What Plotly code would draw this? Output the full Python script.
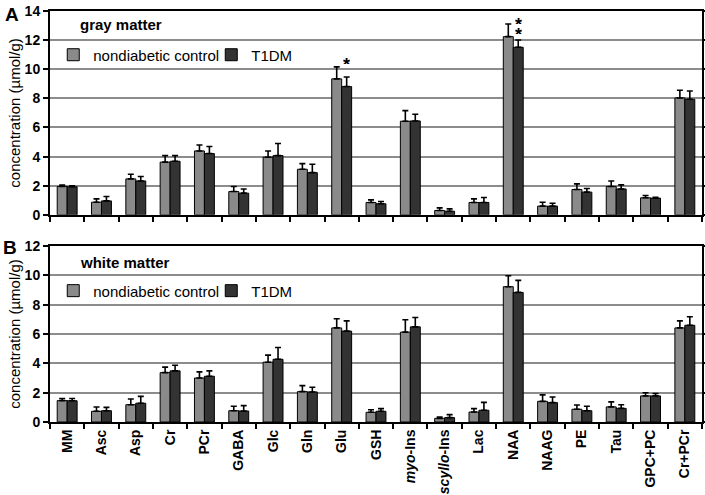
import plotly.graph_objects as go
from plotly.subplots import make_subplots

categories = ["MM", "Asc", "Asp", "Cr", "PCr", "GABA", "Glc", "Gln", "Glu", "GSH",
              "<i>myo</i>-Ins", "<i>scyllo</i>-Ins", "Lac", "NAA", "NAAG", "PE", "Tau",
              "GPC+PC", "Cr+PCr"]

# Gray matter (panel A)
gm_control = [1.95, 0.87, 2.47, 3.62, 4.39, 1.60, 3.96, 3.13, 9.34, 0.85, 6.43, 0.30, 0.85, 12.24, 0.60, 1.74, 1.95, 1.17, 8.03]
gm_control_sd = [0.10, 0.23, 0.32, 0.45, 0.41, 0.35, 0.43, 0.39, 0.82, 0.18, 0.73, 0.18, 0.25, 0.87, 0.27, 0.39, 0.38, 0.16, 0.53]
gm_t1dm = [1.93, 0.96, 2.33, 3.68, 4.21, 1.49, 4.07, 2.90, 8.81, 0.76, 6.45, 0.25, 0.85, 11.51, 0.60, 1.56, 1.78, 1.15, 7.94]
gm_t1dm_sd = [0.07, 0.30, 0.30, 0.39, 0.48, 0.29, 0.83, 0.58, 0.66, 0.16, 0.46, 0.16, 0.34, 0.50, 0.20, 0.25, 0.28, 0.05, 0.57]

# White matter (panel B)
wm_control = [1.46, 0.73, 1.18, 3.37, 3.00, 0.77, 4.08, 2.07, 6.42, 0.66, 6.13, 0.25, 0.68, 9.23, 1.41, 0.87, 1.03, 1.78, 6.42]
wm_control_sd = [0.14, 0.29, 0.39, 0.37, 0.42, 0.30, 0.48, 0.41, 0.62, 0.18, 0.84, 0.09, 0.23, 0.75, 0.44, 0.29, 0.34, 0.22, 0.48]
wm_t1dm = [1.45, 0.77, 1.28, 3.49, 3.12, 0.75, 4.28, 2.05, 6.20, 0.73, 6.49, 0.30, 0.80, 8.84, 1.32, 0.77, 0.93, 1.78, 6.60]
wm_t1dm_sd = [0.15, 0.23, 0.47, 0.38, 0.37, 0.37, 0.80, 0.32, 0.70, 0.18, 0.64, 0.20, 0.54, 0.82, 0.39, 0.30, 0.25, 0.16, 0.58]

series_names = ["nondiabetic control", "T1DM"]
# significance markers (panel A): category -> star heights (µmol/g)
sig_stars = {"Glu": [10.64], "NAA": [12.76, 13.45]}

C_CTRL = "#8a8a8a"
C_T1DM = "#333333"
FONT = "Liberation Sans, Arial, sans-serif"

fig = make_subplots(rows=2, cols=1)

def add_panel(row, ctrl, ctrl_sd, t1, t1_sd, legend):
    for name, vals, sd, col in [(series_names[0], ctrl, ctrl_sd, C_CTRL),
                                (series_names[1], t1, t1_sd, C_T1DM)]:
        fig.add_trace(go.Bar(
            x=categories, y=vals, name=name, legend=legend,
            marker=dict(color=col, line=dict(color="black", width=1)),
            error_y=dict(type="data", array=sd, arrayminus=[0] * len(sd), symmetric=False,
                         color="black", thickness=1.6, width=3),
        ), row=row, col=1)

add_panel(1, gm_control, gm_control_sd, gm_t1dm, gm_t1dm_sd, "legend")
add_panel(2, wm_control, wm_control_sd, wm_t1dm, wm_t1dm_sd, "legend2")

xcommon = dict(type="category", categoryorder="array", categoryarray=categories,
               showline=True, linecolor="black", linewidth=2, mirror=True,
               ticks="outside", tickson="boundaries", ticklen=5, tickcolor="black",
               tickwidth=1.5, showgrid=False, automargin=False)
fig.update_xaxes(**xcommon)
fig.update_xaxes(showticklabels=False, row=1, col=1)
fig.update_xaxes(tickangle=-90, tickfont=dict(family=FONT, size=14, color="black", weight="bold"),
                 row=2, col=1)

ycommon = dict(showline=True, linecolor="black", linewidth=2, mirror="ticks",
               ticks="outside", ticklen=5, tickcolor="black", tickwidth=1.5,
               showgrid=True, gridcolor="#8c8c8c", gridwidth=1.5, zeroline=False,
               dtick=2, tickfont=dict(family=FONT, size=14, color="black", weight="bold"),
               automargin=False,
               title=dict(text="concentration (µmol/g)", font=dict(family=FONT, size=15, color="black"),
                          standoff=0))
fig.update_yaxes(**ycommon)
fig.update_yaxes(range=[0, 14], row=1, col=1)
fig.update_yaxes(range=[0, 12], row=2, col=1)

legend_common = dict(orientation="h", x=0.005, xanchor="left", yanchor="middle",
                     font=dict(family=FONT, size=15, color="black"), bgcolor="rgba(0,0,0,0)",
                     itemwidth=30, entrywidth=113, entrywidthmode="pixels")

fig.update_layout(
    width=705, height=495,
    margin=dict(l=50, r=3, t=11, b=73),
    paper_bgcolor="white", plot_bgcolor="white",
    barmode="group", bargap=0.42, bargroupgap=0,
    font=dict(family=FONT, color="black"),
    xaxis=dict(domain=[0, 1]), xaxis2=dict(domain=[0, 1]),
    yaxis=dict(domain=[0.504, 1.0]), yaxis2=dict(domain=[0.0, 0.428]),
    legend=dict(y=0.893, **legend_common),
    legend2=dict(y=0.319, **legend_common),
    showlegend=True,
)

annotations = [
    dict(text="<b>A</b>", x=-0.058, y=0.992, xref="paper", yref="paper", showarrow=False,
         font=dict(family=FONT, size=19, color="black"), xanchor="center", yanchor="middle"),
    dict(text="<b>B</b>", x=-0.061, y=0.424, xref="paper", yref="paper", showarrow=False,
         font=dict(family=FONT, size=19, color="black"), xanchor="center", yanchor="middle"),
    dict(text="<b>gray matter</b>", x=0.043, y=0.966, xref="paper", yref="paper", showarrow=False,
         font=dict(family=FONT, size=15, color="black"), xanchor="left", yanchor="middle"),
    dict(text="<b>white matter</b>", x=0.043, y=0.389, xref="paper", yref="paper", showarrow=False,
         font=dict(family=FONT, size=15, color="black"), xanchor="left", yanchor="middle"),
]
for cat, heights in sig_stars.items():
    for h in heights:
        annotations.append(dict(text="<b>*</b>", x=cat, y=h, xref="x", yref="y", xshift=5,
                                showarrow=False, font=dict(family=FONT, size=18, color="black"),
                                height=9, borderpad=0, valign="top", yanchor="middle"))
fig.update_layout(annotations=annotations)

fig.write_html("out.html", config={"displayModeBar": False},
               post_script="document.body.style.margin='0';")
